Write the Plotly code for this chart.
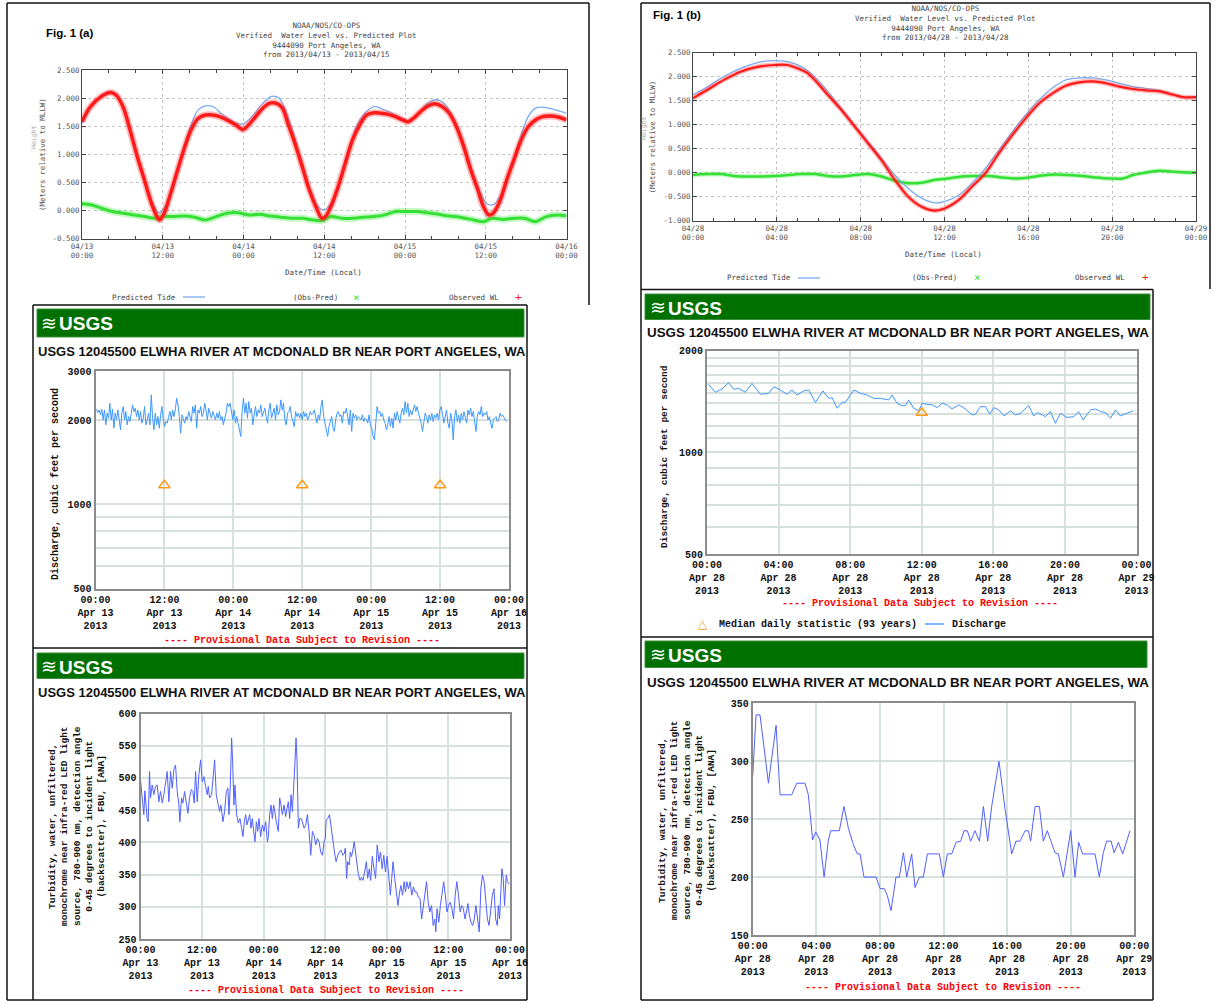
import numpy as np
import plotly.graph_objects as go

# ------------------------------------------------------------------ data
# Fig 1(a) NOAA tide, hours since 2013-04-13 00:00
a_obs_h = [0, 1.28, 2.88, 4.21, 5.01, 6.08, 7.14, 8.21, 9.28, 10.34,
           11.14, 11.51, 12.21, 13.01, 14.07, 15.14, 16.20, 17.27, 18.34, 19.40,
           20.47, 21.54, 22.87, 23.93, 24.73, 25.80, 26.87, 27.93, 29.00, 29.80,
           30.60, 31.66, 32.73, 33.80, 34.86, 35.66, 36.19, 36.99, 38.06, 39.13,
           40.19, 41.26, 42.32, 43.39, 44.46, 45.52, 46.59, 47.65, 48.45, 49.25,
           50.32, 51.39, 52.45, 53.52, 54.58, 55.65, 56.72, 57.78, 58.85, 59.65,
           60.45, 61.09, 62.05, 63.11, 64.18, 65.25, 66.31, 67.38, 68.44, 69.51,
           70.84, 72.0]
a_obs_v = [1.58, 1.85, 2.03, 2.10, 2.06, 1.85, 1.43, 0.96, 0.54, 0.12,
           -0.11, -0.17, -0.05, 0.24, 0.66, 1.08, 1.43, 1.64, 1.70, 1.70,
           1.67, 1.61, 1.52, 1.44, 1.52, 1.67, 1.82, 1.91, 1.90, 1.82,
           1.55, 1.19, 0.78, 0.36, 0.04, -0.14, -0.11, 0.07, 0.42, 0.84,
           1.25, 1.52, 1.70, 1.74, 1.73, 1.71, 1.67, 1.61, 1.58, 1.64,
           1.76, 1.86, 1.90, 1.85, 1.73, 1.49, 1.14, 0.72, 0.36, 0.07,
           -0.08, -0.05, 0.15, 0.54, 0.90, 1.25, 1.49, 1.61, 1.67, 1.68,
           1.66, 1.61]
a_pred_h = [0, 1.28, 4.21, 6.08, 8.21, 10.34, 11.51, 12.47, 14.07, 16.20,
            17.27, 18.34, 19.40, 21.00, 22.87, 23.93, 25.27, 26.87, 28.20, 29.26,
            30.60, 32.73, 34.86, 36.03, 37.26, 39.13, 41.26, 43.39, 44.72, 46.06,
            47.65, 48.72, 49.79, 51.39, 52.72, 53.78, 55.12, 56.72, 58.85, 60.18,
            61.25, 62.58, 64.71, 66.31, 67.38, 68.44, 70.04, 72.0]
a_pred_v = [1.55, 1.85, 2.12, 1.86, 0.99, 0.18, -0.04, 0.10, 0.72, 1.52,
            1.79, 1.86, 1.85, 1.70, 1.56, 1.54, 1.67, 1.91, 2.03, 2.00,
            1.67, 0.84, 0.10, 0.01, 0.18, 0.90, 1.61, 1.85, 1.80, 1.73,
            1.64, 1.60, 1.70, 1.91, 1.97, 1.91, 1.67, 1.19, 0.42, 0.12,
            0.11, 0.36, 1.14, 1.67, 1.82, 1.84, 1.80, 1.73]
a_diff_h = [0, 1.28, 2.88, 4.48, 6.08, 7.68, 9.28, 10.87, 11.94, 13.54,
            15.14, 16.74, 18.34, 19.94, 21.54, 23.13, 24.73, 26.33, 27.93, 29.53,
            31.13, 32.73, 34.33, 35.66, 36.99, 38.59, 40.19, 41.79, 43.39, 44.99,
            46.59, 48.19, 49.79, 51.39, 52.99, 54.58, 56.18, 57.78, 59.65, 60.98,
            62.58, 64.18, 65.78, 67.38, 68.98, 70.58, 72.0]
a_diff_v = [0.12, 0.10, 0.04, -0.02, -0.05, -0.08, -0.11, -0.14, -0.11, -0.11,
            -0.10, -0.12, -0.17, -0.11, -0.05, -0.04, -0.08, -0.07, -0.10, -0.12,
            -0.14, -0.14, -0.17, -0.18, -0.11, -0.14, -0.14, -0.12, -0.11, -0.08,
            -0.02, -0.02, -0.02, -0.04, -0.07, -0.10, -0.12, -0.16, -0.20, -0.14,
            -0.16, -0.14, -0.14, -0.20, -0.11, -0.08, -0.10]

# Fig 1(b) NOAA tide, hours since 2013-04-28 00:00
b_obs_h = [0, 0.67, 1.47, 2.27, 3.07, 3.87, 4.51, 4.99, 5.47, 5.95,
           6.43, 7.07, 7.71, 8.35, 8.99, 9.63, 10.27, 10.91, 11.55, 12.03,
           12.67, 13.31, 13.95, 14.59, 15.23, 15.87, 16.51, 17.15, 17.79, 18.43,
           19.07, 19.71, 20.35, 20.99, 21.63, 22.27, 22.91, 23.39, 24.0]
b_obs_v = [1.55, 1.72, 1.93, 2.10, 2.20, 2.24, 2.24, 2.17, 2.07, 1.86,
           1.62, 1.31, 0.96, 0.61, 0.26, -0.15, -0.50, -0.71, -0.79, -0.74,
           -0.57, -0.29, -0.01, 0.40, 0.78, 1.13, 1.44, 1.65, 1.81, 1.88,
           1.90, 1.86, 1.79, 1.74, 1.71, 1.69, 1.62, 1.57, 1.57]
b_pred_h = [0, 0.67, 1.47, 2.27, 3.07, 3.87, 4.51, 5.15, 5.79, 6.43,
            7.07, 7.71, 8.35, 8.99, 9.63, 10.27, 10.91, 11.55, 12.03, 12.67,
            13.31, 13.95, 14.59, 15.23, 15.87, 16.51, 17.15, 17.79, 18.43, 19.07,
            19.71, 20.35, 20.99, 21.63, 22.27, 22.91, 23.39, 24.0]
b_pred_v = [1.62, 1.78, 2.00, 2.17, 2.29, 2.33, 2.31, 2.21, 2.00, 1.69,
            1.34, 0.99, 0.65, 0.30, -0.05, -0.33, -0.53, -0.63, -0.60, -0.47,
            -0.22, 0.09, 0.47, 0.85, 1.20, 1.51, 1.76, 1.93, 1.97, 1.97,
            1.93, 1.86, 1.79, 1.75, 1.71, 1.63, 1.57, 1.57]
b_diff_h = [0, 0.67, 1.31, 1.95, 2.59, 3.23, 3.87, 4.51, 5.15, 5.79,
            6.43, 7.07, 7.71, 8.35, 8.99, 9.63, 10.27, 10.91, 11.55, 12.19,
            12.83, 13.47, 14.11, 14.75, 15.39, 16.03, 16.67, 17.31, 17.95, 18.59,
            19.23, 19.87, 20.51, 20.99, 21.47, 22.27, 22.91, 24.0]
b_diff_v = [-0.05, -0.03, -0.03, -0.07, -0.08, -0.08, -0.07, -0.05, -0.03, -0.03,
            -0.07, -0.08, -0.05, -0.03, -0.08, -0.17, -0.22, -0.21, -0.15, -0.12,
            -0.08, -0.07, -0.07, -0.10, -0.12, -0.10, -0.06, -0.04, -0.05, -0.07,
            -0.10, -0.12, -0.12, -0.05, -0.01, 0.04, 0.02, 0.00]

# USGS discharge Apr 13-16 (cfs), sampled every ~14 min
c_q = [2189, 2130, 2177, 2090, 2189, 2006, 2177, 1925, 2119, 2033,
       2300, 2006, 2189, 1873, 2119, 2006, 2177, 1952, 1848, 2119,
       2238, 2006, 2148, 1925, 2061, 1979, 2119, 2269, 2148, 2207,
       2061, 2177, 2006, 2148, 1952, 2033, 2238, 1925, 2006, 2119,
       1925, 2464, 2033, 1848, 2119, 1925, 2061, 1873, 2090, 2238,
       2006, 1899, 1979, 1952, 2061, 2148, 2006, 2177, 2061, 2177,
       2397, 2269, 2061, 1798, 2090, 2006, 1952, 2061, 2006, 2148,
       2061, 1979, 2238, 2119, 2269, 1873, 2177, 2119, 2238, 2061,
       2119, 2300, 2177, 2006, 2207, 2119, 2033, 2148, 2061, 2006,
       2119, 2033, 2148, 2006, 2061, 1925, 2033, 2119, 2300, 2238,
       2300, 2119, 2006, 2177, 1952, 2061, 1952, 1873, 1749, 2148,
       2397, 2119, 2300, 2033, 2332, 2119, 2207, 1925, 2119, 2238,
       2061, 2177, 2119, 2269, 2061, 2148, 2207, 2061, 1952, 2177,
       2300, 2033, 2119, 2207, 2006, 2269, 2090, 2148, 2364, 2177,
       2300, 2006, 1925, 2119, 2148, 2238, 2061, 1979, 1899, 2148,
       2061, 2119, 2033,
       2119, 2006, 2148, 2061, 2119, 2006, 2061, 2148, 2090, 2119,
       2177, 2061, 1952, 2090, 2006, 2238, 2364, 2061, 1952, 1873,
       1749, 1899, 2006, 2061, 1873, 1823, 2006, 2119, 2148, 2061,
       2090, 1952, 2148, 2119, 2207, 2061, 1925, 2177, 1823, 2119,
       2033, 2090, 2006, 2061, 2033, 2006, 2090, 1979, 2033, 2006,
       1952, 2090, 1925, 1873, 1749, 1702, 1952, 2238, 2119, 2148,
       2061, 2119, 2006, 1952, 1848, 1925, 2061, 1899, 2033, 1873,
       2119, 2006, 2148, 2061, 1952, 2119, 2207, 2090, 2332, 2119,
       2300, 2061, 2177, 2090, 2207, 2269, 2148, 2238, 2119, 2033,
       1952, 1823, 2006, 2119, 2061, 1952, 2090, 2006, 2119, 1979,
       2090, 2033, 2119, 2006, 2177, 2238, 2090, 1952, 2061, 2177,
       1952, 1873, 2119, 2006, 1702, 2061, 2177, 1979, 2090, 1952,
       2119, 2006, 2148, 2033, 1952, 2177, 2090, 2207, 2061, 2148,
       1979, 1823, 2061, 2148, 2090, 2238, 2061, 2119, 2090, 2148,
       2006, 2061, 1952, 1873, 2006, 2033, 2061, 1979, 2006, 2119,
       2061, 2090, 2033, 2006, 1979]
c_first_h, c_last_h = 0.17, 71.6
c_med_h = [12, 36, 60]
c_med_q = [1170, 1170, 1170]

# USGS discharge Apr 28 (cfs)
d_h = [0.09, 0.47, 0.84, 1.21, 1.49, 1.77, 2.14, 2.51, 2.98, 3.45,
       3.73, 4.10, 4.47, 4.75, 5.03, 5.40, 5.68, 6.06, 6.48, 6.80,
       6.99, 7.27, 7.55, 7.73, 8.20, 8.57, 8.94, 9.32, 9.69, 10.16,
       10.34, 10.62, 10.90, 11.09, 11.27, 11.55, 11.83, 12.02, 12.30, 12.58,
       12.86, 13.14, 13.42, 13.70, 14.07, 14.44, 14.81, 15.00, 15.28, 15.56,
       15.80, 16.03, 16.31, 16.59, 16.96, 17.24, 17.52, 17.98, 18.26, 18.45,
       18.73, 18.91, 19.19, 19.47, 19.75, 20.12, 20.50, 20.77, 21.02, 21.43,
       21.71, 21.99, 22.27, 22.55, 22.83, 23.10, 23.48, 23.81]
d_q = [1590, 1506, 1541, 1609, 1536, 1548, 1506, 1600, 1486, 1496,
       1565, 1530, 1486, 1530, 1479, 1520, 1530, 1407, 1520, 1445,
       1452, 1351, 1407, 1407, 1530, 1496, 1479, 1445, 1445, 1430,
       1479, 1397, 1375, 1375, 1430, 1351, 1327, 1397, 1387, 1382,
       1357, 1397, 1382, 1344, 1382, 1344, 1291, 1297, 1366, 1366,
       1297, 1357, 1336, 1282, 1327, 1291, 1306, 1375, 1282, 1311,
       1291, 1276, 1320, 1219, 1306, 1268, 1276, 1320, 1247, 1336,
       1344, 1320, 1311, 1262, 1336, 1282, 1306, 1327]
d_med_h = [12]
d_med_q = [1310]

# USGS turbidity Apr 13-16 (FBU)
e_h = [0.00, 0.33, 0.65, 0.85, 1.30, 1.50, 1.76, 1.95, 2.28, 2.60,
       2.93, 3.25, 3.58, 3.90, 4.23, 4.55, 4.88, 5.20, 5.53, 5.85,
       6.18, 6.50, 6.83, 7.15, 7.48, 7.67, 8.00, 8.26, 8.59, 8.91,
       9.24, 9.56, 9.89, 10.21, 10.47, 10.73, 11.06, 11.38, 11.71, 12.03,
       12.36, 12.68, 13.01, 13.20, 13.46, 13.85, 14.18, 14.44, 14.76, 15.15,
       15.41, 15.67, 16.07, 16.39, 16.72, 17.04, 17.24, 17.50, 17.76, 17.95,
       18.21, 18.41, 18.73, 19.06, 19.38, 19.71, 19.97, 20.23, 20.49, 20.75,
       21.01, 21.27, 21.53, 21.79, 22.05, 22.31, 22.57, 22.83, 23.09, 23.41,
       23.74, 24.07, 24.39, 24.72, 24.91, 25.17, 25.43, 25.69, 25.95, 26.21,
       26.47, 26.86, 27.12, 27.38, 27.64, 27.97, 28.29, 28.55, 28.81, 29.07,
       29.33, 29.59, 29.85, 30.11, 30.31, 30.50, 30.76, 31.02, 31.28, 31.54,
       31.87, 32.20, 32.52, 32.85, 33.17, 33.50, 33.82, 34.15, 34.47, 34.80,
       35.12, 35.45, 35.77,
       36.00, 36.19, 36.51, 36.83, 37.15, 37.47, 37.79, 38.12, 38.44, 38.76,
       39.08, 39.40, 39.72, 39.91, 40.17, 40.36, 40.68, 40.87, 41.13, 41.45,
       41.64, 41.90, 42.15, 42.47, 42.79, 43.05, 43.37, 43.69, 44.01, 44.27,
       44.59, 44.85, 45.17, 45.49, 45.81, 46.13, 46.45, 46.77, 47.09, 47.41,
       47.73, 48.05, 48.37, 48.69, 48.95, 49.21, 49.53, 49.85, 50.17, 50.49,
       50.74, 51.06, 51.38, 51.64, 51.90, 52.22, 52.54, 52.86, 53.18, 53.50,
       53.82, 54.14, 54.46, 54.78, 55.10, 55.42, 55.74, 56.06, 56.38, 56.71,
       57.03, 57.35, 57.54, 57.79, 58.12, 58.44, 58.76, 59.08, 59.40, 59.72,
       60.04, 60.36, 60.68, 61.00, 61.32, 61.64, 61.96, 62.28, 62.60, 62.92,
       63.24, 63.50, 63.82, 64.08, 64.40, 64.72, 65.04, 65.36, 65.68, 66.00,
       66.32, 66.64, 66.96, 67.28, 67.60, 67.92, 68.24, 68.56, 68.88, 69.21,
       69.53, 69.72, 69.97, 70.17, 70.42, 70.68, 70.94, 71.26, 71.51, 71.85]
e_t = [497, 474, 443, 480, 437, 432, 510, 469, 489, 474,
       487, 489, 463, 479, 461, 474, 497, 510, 463, 510,
       484, 513, 520, 479, 458, 432, 469, 461, 479, 458,
       445, 469, 482, 479, 461, 510, 463, 505, 528, 494,
       502, 487, 474, 487, 469, 474, 507, 528, 474, 458,
       448, 458, 432, 448, 479, 484, 443, 489, 562, 526,
       458, 489, 443, 430, 437, 422, 409, 432, 443, 427,
       437, 443, 422, 437, 417, 401, 432, 417, 437, 409,
       427, 417, 432, 401, 409, 443, 458, 437, 458, 443,
       432, 417, 469, 458, 443, 458, 440, 453, 463, 437,
       474, 448, 479, 526, 562, 526, 422, 437, 437, 432,
       422, 427, 443, 417, 380, 417, 411, 396, 406, 401,
       385, 380, 401,
       406, 435, 437, 443, 422, 401, 385, 370, 380, 385,
       388, 380, 383, 391, 344, 370, 365, 385, 378, 391,
       401, 385, 370, 349, 341, 346, 341, 354, 370, 344,
       359, 341, 378, 359, 344, 396, 370, 385, 359, 380,
       354, 378, 349, 318, 344, 370, 344, 323, 302, 323,
       333, 318, 339, 323, 339, 328, 339, 318, 331, 323,
       323, 315, 313, 281, 302, 318, 339, 307, 292, 302,
       271, 281, 261, 297, 276, 302, 318, 339, 318, 292,
       302, 307, 297, 281, 318, 339, 318, 292, 302, 297,
       281, 292, 305, 287, 276, 271, 281, 302, 281, 261,
       328, 349, 339, 302, 281, 271, 292, 318, 328, 281,
       271, 302, 281, 328, 359, 344, 302, 349, 339, 335]

# USGS turbidity Apr 28 (FBU)
f_h = [0.00, 0.21, 0.46, 0.99, 1.47, 1.72, 2.45, 2.77, 3.29, 3.50,
       3.77, 3.96, 4.23, 4.49, 4.76, 4.91, 5.45, 5.74, 6.02, 6.33,
       6.58, 6.75, 7.00, 7.76, 8.01, 8.28, 8.47, 8.70, 9.01, 9.22,
       9.48, 9.69, 10.00, 10.21, 10.48, 10.73, 10.99, 11.74, 11.99, 12.24,
       12.52, 12.79, 13.08, 13.29, 13.50, 13.71, 13.98, 14.26, 14.51, 14.78,
       15.03, 15.49, 15.87, 16.29, 16.56, 16.81, 17.13, 17.34, 17.48, 17.76,
       18.03, 18.28, 18.53, 19.01, 19.22, 19.54, 20.00, 20.27, 20.50, 20.75,
       21.53, 21.80, 22.05, 22.26, 22.54, 22.73, 23.00, 23.27, 23.73]
f_t = [287, 340, 340, 281, 331, 271, 271, 281, 281, 271,
       232, 239, 232, 200, 232, 240, 240, 261, 242, 228,
       220, 220, 200, 200, 190, 190, 184, 171, 200, 200,
       221, 200, 220, 191, 200, 200, 220, 220, 200, 220,
       220, 230, 231, 240, 240, 231, 240, 231, 261, 231,
       261, 300, 259, 220, 231, 231, 240, 240, 231, 261,
       261, 231, 240, 221, 220, 200, 240, 200, 230, 220,
       220, 200, 221, 231, 231, 221, 230, 220, 240]

# tick labels
noaa_a_tickh = [0, 12, 24, 36, 48, 60, 72]
noaa_a_tickdate = ["04/13", "04/13", "04/14", "04/14", "04/15", "04/15", "04/16"]
noaa_a_ticktime = ["00:00", "12:00", "00:00", "12:00", "00:00", "12:00", "00:00"]
noaa_b_tickh = [0, 4, 8, 12, 16, 20, 24]
noaa_b_tickdate = ["04/28", "04/28", "04/28", "04/28", "04/28", "04/28", "04/29"]
noaa_b_ticktime = ["00:00", "04:00", "08:00", "12:00", "16:00", "20:00", "00:00"]
noaa_a_yticks = [-0.5, 0.0, 0.5, 1.0, 1.5, 2.0, 2.5]
noaa_a_ylabels = ["-0.500", "0.000", "0.500", "1.000", "1.500", "2.000", "2.500"]
noaa_b_yticks = [-1.0, -0.5, 0.0, 0.5, 1.0, 1.5, 2.0, 2.5]
noaa_b_ylabels = ["-1.000", "-0.500", "0.000", "0.500", "1.000", "1.500", "2.000", "2.500"]

usgs_a_tickh = [0, 12, 24, 36, 48, 60, 72]
usgs_a_time = ["00:00", "12:00", "00:00", "12:00", "00:00", "12:00", "00:00"]
usgs_a_day = ["Apr 13", "Apr 13", "Apr 14", "Apr 14", "Apr 15", "Apr 15", "Apr 16"]
usgs_b_tickh = [0, 4, 8, 12, 16, 20, 24]
usgs_b_time = ["00:00", "04:00", "08:00", "12:00", "16:00", "20:00", "00:00"]
usgs_b_day = ["Apr 28", "Apr 28", "Apr 28", "Apr 28", "Apr 28", "Apr 28", "Apr 29"]
usgs_year = "2013"

q_a_ticks = [500, 1000, 2000, 3000]
q_a_minor = [600, 700, 800, 900]
q_b_ticks = [500, 1000, 2000]
q_b_minor = [600, 700, 800, 900, 1100, 1200, 1300, 1400, 1500, 1600, 1700, 1800, 1900]
t_a_ticks = [250, 300, 350, 400, 450, 500, 550, 600]
t_b_ticks = [150, 200, 250, 300, 350]

station_title = "USGS 12045500 ELWHA RIVER AT MCDONALD BR NEAR PORT ANGELES, WA"
turb_label = ["Turbidity, water, unfiltered,",
              "monochrome near infra-red LED light",
              "source, 780-900 nm, detection angle",
              "0-45 degrees to incident light",
              "(backscatter), FBU, [ANA]"]

# ------------------------------------------------------------------ layout helpers
W, H = 1215, 1001
def X(p):
    return p / W
def Y(p):
    return 1 - p / H

GN = "DejaVu Sans Mono, Liberation Mono, monospace"
MONO = "Liberation Mono, DejaVu Sans Mono, monospace"
SANS = "Liberation Sans, Arial, sans-serif"

RED = "#ff1a1a"
GREEN = "#33e033"
TIDEBLUE = "#7aaaf2"
QBLUE = "#3d97ff"
TBLUE = "#5060ff"
ORANGE = "#ff9a1a"

fig = go.Figure()

def band(xv, yv, xa, ya, halo, core, width_core, width_halo):
    fig.add_trace(go.Scatter(x=xv, y=yv, xaxis=xa, yaxis=ya, mode="lines",
                             line=dict(color=halo, width=width_halo, shape="spline"),
                             hoverinfo="skip"))
    fig.add_trace(go.Scatter(x=xv, y=yv, xaxis=xa, yaxis=ya, mode="lines",
                             line=dict(color=core, width=width_core, shape="spline"),
                             hoverinfo="skip"))

# Panel A
band(a_diff_h, a_diff_v, "x", "y", "rgba(90,235,90,0.35)", GREEN, 3, 7)
fig.add_trace(go.Scatter(x=a_pred_h, y=a_pred_v, xaxis="x", yaxis="y", mode="lines",
                         line=dict(color=TIDEBLUE, width=1.3, shape="spline")))
band(a_obs_h, a_obs_v, "x", "y", "rgba(255,60,60,0.35)", RED, 3.5, 7)

# Panel B
band(b_diff_h, b_diff_v, "x2", "y2", "rgba(90,235,90,0.35)", GREEN, 2.5, 5)
fig.add_trace(go.Scatter(x=b_pred_h, y=b_pred_v, xaxis="x2", yaxis="y2", mode="lines",
                         line=dict(color=TIDEBLUE, width=1.3, shape="spline")))
band(b_obs_h, b_obs_v, "x2", "y2", "rgba(255,60,60,0.35)", RED, 2.2, 5)

# Panel C discharge a
c_h = np.linspace(c_first_h, c_last_h, len(c_q))
fig.add_trace(go.Scatter(x=c_h, y=c_q, xaxis="x3", yaxis="y3", mode="lines",
                         line=dict(color=QBLUE, width=1)))
fig.add_trace(go.Scatter(x=c_med_h, y=c_med_q, xaxis="x3", yaxis="y3", mode="markers",
                         marker=dict(symbol="triangle-up-open", size=10, color=ORANGE,
                                     line=dict(width=1.5, color=ORANGE))))
# Panel D discharge b
fig.add_trace(go.Scatter(x=d_h, y=d_q, xaxis="x4", yaxis="y4", mode="lines",
                         line=dict(color=QBLUE, width=1)))
fig.add_trace(go.Scatter(x=d_med_h, y=d_med_q, xaxis="x4", yaxis="y4", mode="markers",
                         marker=dict(symbol="triangle-up-open", size=10, color=ORANGE,
                                     line=dict(width=1.5, color=ORANGE))))
# Panel E turbidity a
fig.add_trace(go.Scatter(x=e_h, y=e_t, xaxis="x5", yaxis="y5", mode="lines",
                         line=dict(color=TBLUE, width=1)))
# Panel F turbidity b
fig.add_trace(go.Scatter(x=f_h, y=f_t, xaxis="x6", yaxis="y6", mode="lines",
                         line=dict(color=TBLUE, width=1)))

# ------------------------------------------------------------------ axes
NGRID = "#c2c2c2"
def noaa_x(x0, x1, rng, tv, dates, times, anchor, mdt):
    return dict(domain=[X(x0), X(x1)], anchor=anchor, range=rng, automargin=False,
                tickmode="array", tickvals=tv,
                ticktext=[d + "<br>" + t for d, t in zip(dates, times)],
                showgrid=True, gridcolor=NGRID, griddash="dot", gridwidth=1,
                zeroline=False, showline=True, mirror="ticks", linecolor="#444",
                linewidth=1, ticks="inside", ticklen=4, tickcolor="#444",
                tickfont=dict(family=GN, size=7.5, color="#555"),
                minor=dict(tickmode="linear", tick0=0, dtick=mdt, ticks="inside",
                           ticklen=3, tickcolor="#444", showgrid=False))

def noaa_y(y0, y1, rng, tv, tt, anchor):
    return dict(domain=[Y(y1), Y(y0)], anchor=anchor, range=rng, automargin=False,
                tickmode="array", tickvals=tv, ticktext=tt,
                showgrid=True, gridcolor=NGRID, griddash="dot", gridwidth=1,
                zeroline=False, showline=True, mirror="ticks", linecolor="#444",
                linewidth=1, ticks="inside", ticklen=4, tickcolor="#444",
                tickfont=dict(family=GN, size=7.5, color="#555"))

GRID = "#d6e0dc"
def usgs_x(x0, x1, rng, tv, times, days, anchor):
    return dict(domain=[X(x0), X(x1)], anchor=anchor, range=rng, automargin=False,
                tickmode="array", tickvals=tv,
                ticktext=[t + "<br>" + d + "<br>" + usgs_year for t, d in zip(times, days)],
                showgrid=True, gridcolor=GRID, gridwidth=1.5, zeroline=False,
                showline=True, mirror=True, linecolor="#8c8c8c", linewidth=2,
                ticks="", tickfont=dict(family=MONO, size=10, color="#111", weight="bold"))

def usgs_y(y0, y1, anchor, **kw):
    d = dict(domain=[Y(y1), Y(y0)], anchor=anchor, automargin=False,
             showgrid=True, gridcolor=GRID, gridwidth=1.5, zeroline=False,
             showline=True, mirror=True, linecolor="#8c8c8c", linewidth=2,
             ticks="", tickfont=dict(family=MONO, size=10, color="#111", weight="bold"))
    d.update(kw)
    return d

layout = dict(
    width=W, height=H, autosize=False,
    margin=dict(l=0, r=0, t=0, b=0, pad=0, autoexpand=False),
    paper_bgcolor="white", plot_bgcolor="white", showlegend=False,
    xaxis=noaa_x(82, 566.5, [0, 72], noaa_a_tickh, noaa_a_tickdate, noaa_a_ticktime, "y", 4),
    yaxis=noaa_y(70, 238.5, [-0.5, 2.5], noaa_a_yticks, noaa_a_ylabels, "x"),
    xaxis2=noaa_x(693, 1196, [0, 24], noaa_b_tickh, noaa_b_tickdate, noaa_b_ticktime, "y2", 1),
    yaxis2=noaa_y(52.5, 220.7, [-1.0, 2.5], noaa_b_yticks, noaa_b_ylabels, "x2"),
    xaxis3=usgs_x(95.5, 509, [0, 72], usgs_a_tickh, usgs_a_time, usgs_a_day, "y3"),
    yaxis3=usgs_y(371, 588.5, "x3", type="log", range=[np.log10(500), np.log10(3000)],
                  tickmode="array", tickvals=q_a_ticks, ticktext=[str(v) for v in q_a_ticks],
                  minor=dict(tickmode="array", tickvals=q_a_minor, showgrid=True,
                             gridcolor=GRID, gridwidth=1.5, ticks="")),
    xaxis4=usgs_x(707, 1136.5, [0, 24], usgs_b_tickh, usgs_b_time, usgs_b_day, "y4"),
    yaxis4=usgs_y(350.7, 554, "x4", type="log", range=[np.log10(500), np.log10(2000)],
                  tickmode="array", tickvals=q_b_ticks, ticktext=[str(v) for v in q_b_ticks],
                  minor=dict(tickmode="array", tickvals=q_b_minor, showgrid=True,
                             gridcolor=GRID, gridwidth=1.5, ticks="")),
    xaxis5=usgs_x(140.5, 510, [0, 72], usgs_a_tickh, usgs_a_time, usgs_a_day, "y5"),
    yaxis5=usgs_y(713.5, 939, "x5", range=[250, 600], tickmode="array", tickvals=t_a_ticks,
                  ticktext=[str(v) for v in t_a_ticks]),
    xaxis6=usgs_x(752.7, 1134.3, [0, 24], usgs_b_tickh, usgs_b_time, usgs_b_day, "y6"),
    yaxis6=usgs_y(703.3, 935, "x6", range=[150, 350], tickmode="array", tickvals=t_b_ticks,
                  ticktext=[str(v) for v in t_b_ticks]),
)
fig.update_layout(**layout)

# ------------------------------------------------------------------ shapes
shapes = []
def line(x0, y0, x1, y1, color="#111", w=1.5):
    shapes.append(dict(type="line", xref="paper", yref="paper", x0=X(x0), y0=Y(y0),
                       x1=X(x1), y1=Y(y1), line=dict(color=color, width=w)))
def rect(x0, y0, x1, y1, fill, lc, w=1):
    shapes.append(dict(type="rect", xref="paper", yref="paper", x0=X(x0), y0=Y(y1),
                       x1=X(x1), y1=Y(y0), fillcolor=fill, line=dict(color=lc, width=w),
                       layer="below"))

# left column frames
line(7, 3, 589, 3)
line(7, 3, 7, 1000)
line(589, 3, 589, 305)
line(33, 305, 527, 305)
line(33, 305, 33, 1000)
line(527, 305, 527, 1000)
line(33, 648, 527, 648)
line(7, 1000, 527, 1000)
# right column frames
line(641, 3, 1210, 3)
line(641, 3, 641, 1000)
line(1210, 3, 1210, 289)
line(641, 289.5, 1153, 289.5)
line(1153, 289.5, 1153, 1000)
line(641, 637, 1153, 637)
line(641, 1000, 1153, 1000)

# green USGS banners
GBAR = "#007000"
rect(37, 309, 524, 337, GBAR, "#3d8f3d")
rect(37, 653, 524, 678.5, GBAR, "#3d8f3d")
rect(645, 294, 1150, 319.5, GBAR, "#3d8f3d")
rect(645, 641, 1147, 667.5, GBAR, "#3d8f3d")

# legend lines
line(183, 297, 205, 297, TIDEBLUE, 1.3)
line(798, 278, 820, 278, TIDEBLUE, 1.3)
line(925, 624, 944, 624, QBLUE, 1.3)
fig.update_layout(shapes=shapes)

# ------------------------------------------------------------------ annotations
ann = []
def txt(x, y, s, size, color="#111", family=MONO, xa="center", ya="middle", angle=0, weight="normal"):
    ann.append(dict(xref="paper", yref="paper", x=X(x), y=Y(y), text=s, showarrow=False,
                    xanchor=xa, yanchor=ya, textangle=angle,
                    font=dict(family=family, size=size, color=color, weight=weight)))

# figure labels
txt(44, 33, "Fig. 1 (a)", 11.5, "#000", SANS, xa="left", weight="bold")
txt(651, 15, "Fig. 1 (b)", 11.5, "#000", SANS, xa="left", weight="bold")

# NOAA titles
txt(326, 39.5, "NOAA/NOS/CO-OPS<br>Verified\u00a0 Water Level vs. Predicted Plot<br>"
    "9444090 Port Angeles, WA<br>from 2013/04/13 - 2013/04/15", 7.5, "#444", GN)
txt(945, 23, "NOAA/NOS/CO-OPS<br>Verified\u00a0 Water Level vs. Predicted Plot<br>"
    "9444090 Port Angeles, WA<br>from 2013/04/28 - 2013/04/28", 7.5, "#444", GN)
# NOAA axis titles
txt(42, 154, "(Meters relative to MLLW)", 7.5, "#555", GN, angle=-90)
txt(34, 137, "Height", 6.5, "#aaa", GN, angle=-90)
txt(651.5, 137, "(Meters relative to MLLW)", 7.5, "#555", GN, angle=-90)
txt(644, 128, "Height", 6.5, "#aaa", GN, angle=-90)
txt(323, 272, "Date/Time (Local)", 7.5, "#444", GN)
txt(944, 254, "Date/Time (Local)", 7.5, "#444", GN)
# NOAA legends
txt(178, 297, "Predicted Tide", 7.5, "#444", GN, xa="right")
txt(340, 297, "(Obs-Pred)", 7.5, "#444", GN, xa="right")
txt(356, 297, "\u00d7", 11, GREEN, GN)
txt(501, 297, "Observed WL", 7.5, "#444", GN, xa="right")
txt(518, 297, "+", 11, RED, GN)
txt(793, 278, "Predicted Tide", 7.5, "#444", GN, xa="right")
txt(959, 278, "(Obs-Pred)", 7.5, "#444", GN, xa="right")
txt(977, 278, "\u00d7", 11, GREEN, GN)
txt(1127, 278, "Observed WL", 7.5, "#444", GN, xa="right")
txt(1145, 278, "+", 11, RED, GN)

# USGS banners / titles
for (lx, ly) in [(39, 323), (39, 666), (648, 307), (648, 654)]:
    txt(lx, ly, "\u224b", 19, "white", "DejaVu Sans", xa="left")
    txt(lx + 18, ly + 1, "USGS", 19, "white", SANS, xa="left", weight="bold")
txt(36, 351, station_title, 13, "#111", SANS, xa="left", weight="bold")
txt(36, 692, station_title, 13, "#111", SANS, xa="left", weight="bold")
txt(645, 333, station_title, 13.4, "#111", SANS, xa="left", weight="bold")
txt(645, 682, station_title, 13.4, "#111", SANS, xa="left", weight="bold")

# USGS axis titles
txt(55, 484, "Discharge, cubic feet per second", 10, "#111", MONO, angle=-90, weight="bold")
txt(664, 457, "Discharge, cubic feet per second", 9.5, "#111", MONO, angle=-90, weight="bold")
txt(77, 826, "<br>".join(turb_label), 9.5, "#111", MONO, angle=-90, weight="bold")
txt(687, 820, "<br>".join(turb_label), 9.5, "#111", MONO, angle=-90, weight="bold")

# provisional notes
prov = "---- Provisional Data Subject to Revision ----"
txt(302, 640, prov, 10, "#ff0000", MONO, weight="bold")
txt(326, 990, prov, 10, "#ff0000", MONO, weight="bold")
txt(920, 603, prov, 10, "#ff0000", MONO, weight="bold")
txt(943, 987, prov, 10, "#ff0000", MONO, weight="bold")

# discharge legend (right)
txt(703, 624, "\u25b3", 12, ORANGE, "DejaVu Sans")
txt(717, 624, "Median daily statistic (93 years)", 10, "#111", MONO, xa="left", weight="bold")
txt(950, 624, "Discharge", 10, "#111", MONO, xa="left", weight="bold")

fig.update_layout(annotations=ann)
fig.write_html("out.html")
